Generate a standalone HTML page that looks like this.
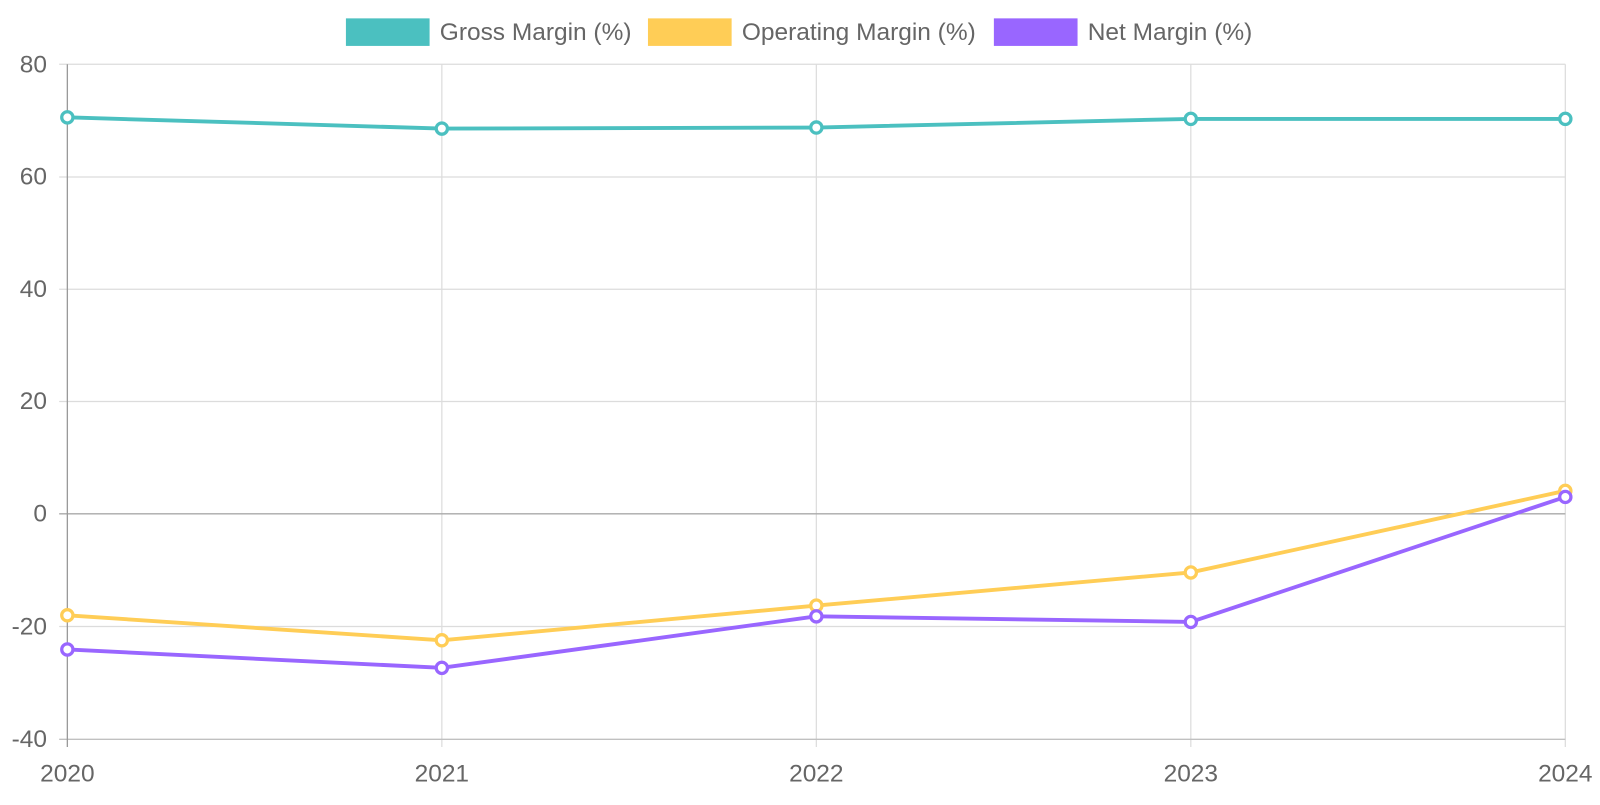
<!DOCTYPE html>
<html><head><meta charset="utf-8"><style>
html,body{margin:0;padding:0;background:#fff;}
svg text{font-family:"Liberation Sans",sans-serif;fill:#666;font-size:24px;}
</style></head><body>
<svg width="1600" height="800" viewBox="0 0 1568 784" xmlns="http://www.w3.org/2000/svg">
<g stroke="#dcdcdc" stroke-width="1.2">
<line x1="58" y1="63" x2="1534" y2="63"/>
<line x1="58" y1="173.5" x2="1534" y2="173.5"/>
<line x1="58" y1="283.5" x2="1534" y2="283.5"/>
<line x1="58" y1="393.5" x2="1534" y2="393.5"/>
<line x1="58" y1="614" x2="1534" y2="614"/>
<line x1="433" y1="63" x2="433" y2="732"/>
<line x1="800" y1="63" x2="800" y2="732"/>
<line x1="1167" y1="63" x2="1167" y2="732"/>
<line x1="1534" y1="63" x2="1534" y2="732"/>
</g>
<line x1="58" y1="503.5" x2="1534" y2="503.5" stroke="#aaaaaa" stroke-width="1.3"/>
<line x1="58" y1="724.5" x2="1534" y2="724.5" stroke="#c0c0c0" stroke-width="1.3"/>
<line x1="66" y1="63" x2="66" y2="732" stroke="#9a9a9a" stroke-width="1.3"/>
<g text-anchor="end">
<text x="46" y="71">80</text><text x="46" y="181">60</text><text x="46" y="291">40</text>
<text x="46" y="401">20</text><text x="46" y="511">0</text><text x="46" y="622">-20</text><text x="46" y="732">-40</text>
</g>
<g text-anchor="middle">
<text x="66" y="766">2020</text><text x="433" y="766">2021</text><text x="800" y="766">2022</text>
<text x="1167" y="766">2023</text><text x="1534" y="766">2024</text>
</g>
<g fill="none" stroke-width="3.8">
<polyline stroke="#4bc0c0" points="66,115 433,126 800,125 1167,116.5 1534,116.5"/>
<polyline stroke="#ffcd56" points="66,603 433,627.5 800,593.5 1167,561 1534,481"/>
<polyline stroke="#9966ff" points="66,636.5 433,654.5 800,604 1167,609.5 1534,487"/>
</g>
<g fill="#fff" stroke-width="3.2">
<g stroke="#4bc0c0"><circle cx="66" cy="115" r="5.5"/><circle cx="433" cy="126" r="5.5"/><circle cx="800" cy="125" r="5.5"/><circle cx="1167" cy="116.5" r="5.5"/><circle cx="1534" cy="116.5" r="5.5"/></g>
<g stroke="#ffcd56"><circle cx="66" cy="603" r="5.5"/><circle cx="433" cy="627.5" r="5.5"/><circle cx="800" cy="593.5" r="5.5"/><circle cx="1167" cy="561" r="5.5"/><circle cx="1534" cy="481" r="5.5"/></g>
<g stroke="#9966ff"><circle cx="66" cy="636.5" r="5.5"/><circle cx="433" cy="654.5" r="5.5"/><circle cx="800" cy="604" r="5.5"/><circle cx="1167" cy="609.5" r="5.5"/><circle cx="1534" cy="487" r="5.5"/></g>
</g>
<rect x="339" y="18" width="82" height="27" fill="#4bc0c0"/>
<text x="431" y="39">Gross Margin (%)</text>
<rect x="635" y="18" width="82" height="27" fill="#ffcd56"/>
<text x="727" y="39">Operating Margin (%)</text>
<rect x="974" y="18" width="82" height="27" fill="#9966ff"/>
<text x="1066" y="39">Net Margin (%)</text>
</svg>
</body></html>
